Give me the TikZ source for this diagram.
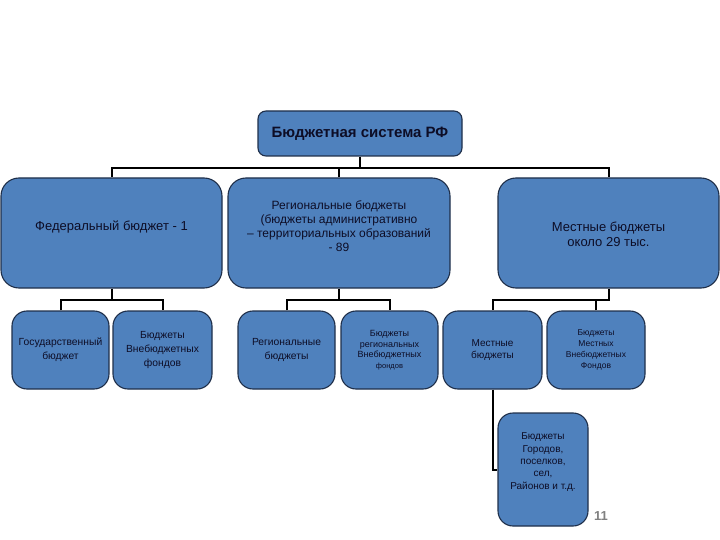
\documentclass[tikz,border=0pt]{standalone}
\usepackage{fontspec}
\setmainfont{Liberation Sans}
\definecolor{boxfill}{HTML}{4F81BD}
\definecolor{boxline}{HTML}{1F2F4A}
\definecolor{txt}{HTML}{0D0D26}
\tikzset{
  bx/.style={draw=boxline, line width=1.1pt, fill=boxfill, text=txt, align=center, inner sep=2pt},
  tx/.style={text=txt, align=center, inner sep=0pt},
  topbox/.style={bx, rounded corners=8pt, minimum width=204pt, minimum height=45pt, font=\fontsize{15}{17}\selectfont\bfseries},
  lvtwo/.style={bx, rounded corners=18pt, minimum width=221pt, minimum height=110pt},
  lvthree/.style={bx, rounded corners=15pt, minimum width=97pt, minimum height=78pt, font=\fontsize{10.3}{14}\selectfont},
  conn/.style={draw=black, line width=2pt},
}
\begin{document}
\begin{tikzpicture}[x=1pt,y=-1pt]
\useasboundingbox (0,0) rectangle (720,540);
\node[topbox] (top) at (360,133.5) {Бюджетная система РФ};
\node[lvtwo] (fed) at (111.5,233) {};
\node[tx, font=\fontsize{13}{15}\selectfont] (fedt) at (111.5,227) {Федеральный бюджет - 1};
\node[lvtwo, minimum width=222pt] (reg) at (339,233) {};
\node[tx, font=\fontsize{12}{14}\selectfont] (regt) at (339,226.5) {Региональные бюджеты\\(бюджеты административно\\– территориальных образований\\- 89};
\node[lvtwo] (loc) at (608.5,233) {};
\node[tx, font=\fontsize{13}{15}\selectfont] (loct) at (608.5,234.5) {Местные бюджеты\\около 29 тыс.};

\node[lvthree] (gos) at (60.5,350) {Государственный\\бюджет};
\node[lvthree, minimum width=99pt] (vneb) at (162.5,350) {Бюджеты\\Внебюджетных\\фондов};
\node[lvthree] (regb) at (286.5,350) {Региональные\\бюджеты};
\node[lvthree, font=\fontsize{9}{10.5}\selectfont] (regvneb) at (389.5,350) {Бюджеты\\региональных\\Внебюджетных\\{\fontsize{7.5}{11}\selectfont фондов}};
\node[lvthree, minimum width=99pt, font=\fontsize{10}{11.5}\selectfont] (mest) at (492.5,350) {Местные\\бюджеты};
\node[lvthree, minimum width=98pt, font=\fontsize{8.5}{11}\selectfont] (mestvneb) at (596,350) {Бюджеты\\Местных\\Внебюджетных\\Фондов};
\node[lvthree, minimum width=90pt, minimum height=113pt] (gor) at (543,469.5) {};
\node[tx, font=\fontsize{10}{12.3}\selectfont] (gort) at (543,462) {Бюджеты\\Городов,\\поселков,\\сел,\\Районов и т.д.};

\coordinate (j1) at (360,168);
\coordinate (j2) at (111.5,300);
\coordinate (j3) at (339,300);
\coordinate (j4) at (608.5,300);

\draw[conn] (top.south) -- (j1);
\draw[conn] (fed.north) |- (j1) -| (loc.north);
\draw[conn] (reg.north) -- (reg.north |- j1);

\draw[conn] (fed.south) -- (j2);
\draw[conn] (gos.north) |- (j2) -| (vneb.north);

\draw[conn] (reg.south) -- (j3);
\draw[conn] (regb.north) |- (j3) -| (regvneb.north);

\draw[conn] (loc.south) -- (j4) -| (mest.north);
\draw[conn] (mestvneb.north) -- (mestvneb.north |- j4);

\draw[conn] (mest.south) |- (gor.west);

\node[text=gray, font=\fontsize{13}{15}\selectfont\bfseries] (pg) at (601,516) {11};
\end{tikzpicture}
\end{document}
